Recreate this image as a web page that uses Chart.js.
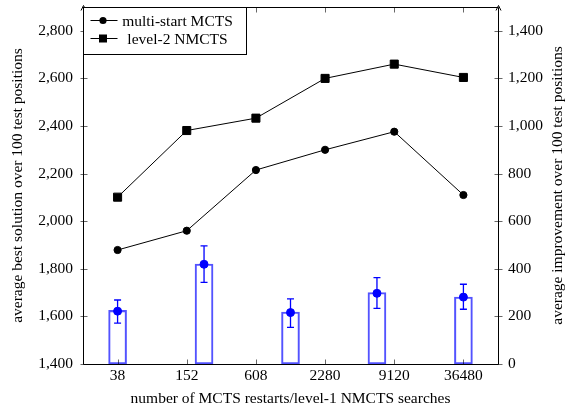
<!DOCTYPE html>
<html>
<head>
<meta charset="utf-8">
<script src="https://cdn.jsdelivr.net/npm/chart.js@4.4.0/dist/chart.umd.min.js"></script>
<style>
  html, body { margin: 0; padding: 0; background: #fff; }
  #wrap { width: 568px; height: 410px; }
</style>
</head>
<body>
<div id="wrap"><canvas id="chart" width="568" height="410"></canvas></div>
<script>
// Valeurs
const categories = ["38", "152", "608", "2280", "9120", "36480"];
const multiStartMcts = [1879, 1960, 2215, 2300, 2376, 2110];
const level2Nmcts = [2101, 2381, 2433, 2600, 2660, 2604];

// Barres d'amélioration : 5 positions réparties sur l'axe des catégories
const improvementPositions = [0, 1.25, 2.5, 3.75, 5];
const improvementBars = [225, 420, 218, 300, 281];
const improvementMeans = [222, 419, 216, 297, 281];
const improvementLow = [172, 343, 154, 234, 230];
const improvementHigh = [269, 496, 274, 363, 335];

const leftTicks = [1400, 1600, 1800, 2000, 2200, 2400, 2600, 2800];
const rightTicks = [0, 200, 400, 600, 800, 1000, 1200, 1400];

const xTitle = "number of MCTS restarts/level-1 NMCTS searches";
const leftTitle = "average best solution over 100 test positions";
const rightTitle = "average improvement over 100 test positions";

const FONT = "'Liberation Serif', 'Times New Roman', serif";
const FONT_SIZE = 15.5;
const BLUE = "#0000ff";

const crisp = (v) => Math.round(v) + 0.5;

// Pas de marge automatique autour des axes : la zone de tracé est fixée à la main
function fixSize(prop, value) {
  return (scale) => {
    scale[prop] = value;
    scale.paddingTop = 0;
    scale.paddingBottom = 0;
    scale.paddingLeft = 0;
    scale.paddingRight = 0;
  };
}

const figurePlugin = {
  id: "figure",
  afterDatasetsDraw(chart) {
    const { ctx } = chart;
    const xb = chart.scales.xb;
    const y2 = chart.scales.y2;
    // barres d'erreur
    ctx.save();
    ctx.strokeStyle = BLUE;
    ctx.lineWidth = 1.3;
    improvementPositions.forEach((pos, i) => {
      const x = xb.getPixelForValue(pos);
      const top = y2.getPixelForValue(improvementHigh[i]);
      const bottom = y2.getPixelForValue(improvementLow[i]);
      ctx.beginPath();
      ctx.moveTo(x, top);
      ctx.lineTo(x, bottom);
      ctx.moveTo(x - 3.5, top);
      ctx.lineTo(x + 3.5, top);
      ctx.moveTo(x - 3.5, bottom);
      ctx.lineTo(x + 3.5, bottom);
      ctx.stroke();
    });
    ctx.restore();
  },
  afterDraw(chart) {
    const { ctx, chartArea: a, scales } = chart;
    const left = crisp(a.left), right = crisp(a.right);
    const top = crisp(a.top), bottom = crisp(a.bottom);
    ctx.save();
    ctx.strokeStyle = "#000";
    ctx.lineWidth = 1;

    // cadre
    ctx.beginPath();
    ctx.rect(left, top, right - left, bottom - top);
    ctx.stroke();

    // flèches des deux axes y
    [left, right].forEach((x) => {
      ctx.beginPath();
      ctx.moveTo(x - 2.5, top + 3);
      ctx.lineTo(x, top - 2);
      ctx.lineTo(x + 2.5, top + 3);
      ctx.stroke();
    });

    // graduations des axes y (de part et d'autre)
    ctx.lineWidth = 0.6;
    ctx.beginPath();
    leftTicks.forEach((v) => {
      const y = crisp(scales.y.getPixelForValue(v));
      ctx.moveTo(left - 3, y);
      ctx.lineTo(left + 4, y);
    });
    rightTicks.forEach((v) => {
      const y = crisp(scales.y2.getPixelForValue(v));
      ctx.moveTo(right - 4, y);
      ctx.lineTo(right + 4, y);
    });
    // graduations x, vers l'intérieur en haut et en bas
    categories.forEach((c, i) => {
      const x = crisp(scales.x.getPixelForValue(i));
      ctx.moveTo(x, bottom);
      ctx.lineTo(x, bottom - 5);
      ctx.moveTo(x, top);
      ctx.lineTo(x, top + 5);
    });
    ctx.stroke();

    // titre de l'axe de droite, lu de bas en haut comme à gauche
    ctx.fillStyle = "#000";
    ctx.font = `${FONT_SIZE}px ${FONT}`;
    ctx.textAlign = "center";
    ctx.textBaseline = "middle";
    ctx.save();
    ctx.translate(558, (a.top + a.bottom) / 2);
    ctx.rotate(-Math.PI / 2);
    ctx.fillText(rightTitle, 0, 0);
    ctx.restore();

    // légende encadrée
    const boxW = 163, boxH = 47;
    ctx.lineWidth = 1;
    ctx.fillStyle = "#fff";
    ctx.fillRect(left, top, boxW, boxH);
    ctx.strokeRect(left, top, boxW, boxH);
    const rows = [
      { label: chart.data.datasets[0].label, style: "circle", y: top + 13 },
      { label: chart.data.datasets[1].label, style: "rect", y: top + 31 }
    ];
    rows.forEach((row) => {
      ctx.strokeStyle = "#000";
      ctx.beginPath();
      ctx.moveTo(left + 7, row.y);
      ctx.lineTo(left + 34, row.y);
      ctx.stroke();
      ctx.fillStyle = "#000";
      if (row.style === "circle") {
        ctx.beginPath();
        ctx.arc(left + 19.5, row.y, 3.6, 0, Math.PI * 2);
        ctx.fill();
      } else {
        ctx.fillRect(left + 19.5 - 4, row.y - 4, 8, 8);
      }
      ctx.fillText(row.label, left + 94, row.y + 1);
    });
    ctx.restore();
  }
};

new Chart(document.getElementById("chart"), {
  type: "bar",
  data: {
    labels: categories,
    datasets: [
      {
        type: "line",
        label: "multi-start MCTS",
        data: multiStartMcts,
        xAxisID: "x",
        yAxisID: "y",
        borderColor: "#000",
        backgroundColor: "#000",
        borderWidth: 1,
        pointStyle: "circle",
        pointRadius: 3.6,
        tension: 0,
        order: 1
      },
      {
        type: "line",
        label: "level-2 NMCTS",
        data: level2Nmcts,
        xAxisID: "x",
        yAxisID: "y",
        borderColor: "#000",
        backgroundColor: "#000",
        borderWidth: 1,
        pointStyle: "rect",
        pointRadius: 5.7,
        tension: 0,
        order: 1
      },
      {
        type: "bar",
        label: "improvement",
        data: improvementPositions.map((x, i) => ({ x, y: improvementBars[i] })),
        xAxisID: "xb",
        yAxisID: "y2",
        backgroundColor: "rgba(255,255,255,0)",
        borderColor: "rgba(40,40,255,0.8)",
        borderWidth: 1.4,
        borderSkipped: false,
        barThickness: 18,
        grouped: false,
        order: 3
      },
      {
        type: "line",
        label: "mean improvement",
        data: improvementPositions.map((x, i) => ({ x, y: improvementMeans[i] })),
        xAxisID: "xb",
        yAxisID: "y2",
        showLine: false,
        backgroundColor: BLUE,
        borderColor: BLUE,
        pointRadius: 4,
        order: 2
      }
    ]
  },
  options: {
    responsive: false,
    animation: false,
    layout: { padding: { top: 7, left: 0, right: 0, bottom: 0 } },
    plugins: {
      legend: { display: false },
      tooltip: { enabled: false }
    },
    scales: {
      x: {
        type: "category",
        offset: true,
        grid: { display: false, drawTicks: false },
        border: { display: false },
        ticks: { color: "#000", font: { family: FONT, size: FONT_SIZE }, padding: 3, maxRotation: 0 },
        title: {
          display: true,
          text: xTitle,
          color: "#000",
          font: { family: FONT, size: FONT_SIZE },
          padding: { top: 3, bottom: 2 }
        },
        afterFit: fixSize("height", 46)
      },
      xb: {
        type: "linear",
        display: false,
        offset: false,
        grid: { offset: false },
        min: -0.5,
        max: 5.5
      },
      y: {
        type: "linear",
        position: "left",
        min: 1400,
        max: 2900,
        grid: { display: false, drawTicks: false },
        border: { display: false },
        afterBuildTicks: (scale) => { scale.ticks = leftTicks.map((value) => ({ value })); },
        ticks: { color: "#000", font: { family: FONT, size: FONT_SIZE }, padding: 10 },
        title: {
          display: true,
          text: leftTitle,
          color: "#000",
          font: { family: FONT, size: FONT_SIZE },
          padding: { top: 9, bottom: 4 }
        },
        afterFit: fixSize("width", 83)
      },
      y2: {
        type: "linear",
        position: "right",
        min: 0,
        max: 1500,
        grid: { display: false, drawTicks: false },
        border: { display: false },
        afterBuildTicks: (scale) => { scale.ticks = rightTicks.map((value) => ({ value })); },
        ticks: { color: "#000", font: { family: FONT, size: FONT_SIZE }, padding: 10 },
        afterFit: fixSize("width", 70)
      }
    }
  },
  plugins: [figurePlugin]
});
</script>
</body>
</html>
